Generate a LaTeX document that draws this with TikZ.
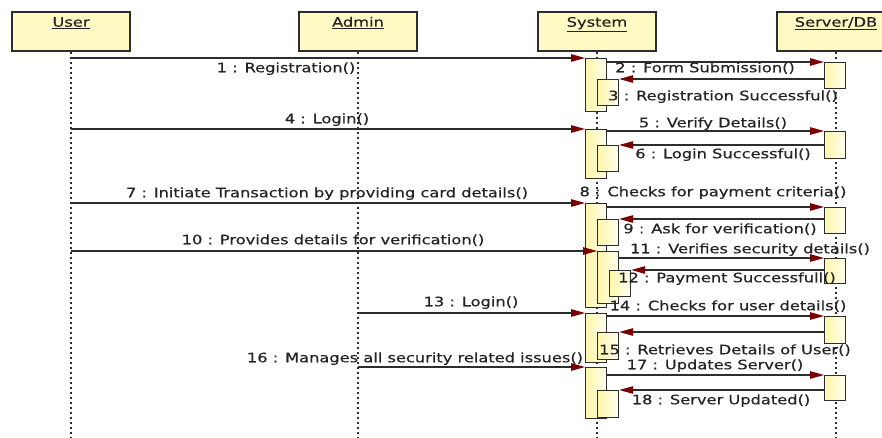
\documentclass[tikz,border=0pt]{standalone}
\usepackage{fontspec}
\setmainfont{DejaVu Sans}[FakeStretch=1.25,FakeBold=0.4]
\usetikzlibrary{arrows.meta}
\definecolor{hdrY}{RGB}{255,250,196}
\definecolor{actY}{RGB}{255,246,168}
\definecolor{tipR}{RGB}{120,0,0}
\definecolor{lineG}{RGB}{45,45,45}
\definecolor{txtG}{RGB}{35,35,35}
\begin{document}
\begin{tikzpicture}[x=1pt,y=-1pt,
  hdr/.style={draw=lineG, line width=1.4pt, fill=hdrY, minimum width=118pt,
    minimum height=39pt, inner sep=0pt, text height=14.7pt, text depth=24.3pt,
    font=\fontsize{13}{15}\selectfont, text=txtG},
  life/.style={draw=lineG, line width=2pt, dash pattern=on 2pt off 3pt},
  act/.style={draw=lineG, line width=1.2pt, left color=actY, right color=white!85!actY,
    minimum width=21pt, inner sep=0pt, anchor=north west},
  msg/.style={draw=lineG, line width=1.1pt, -{Triangle[length=14pt,width=7.5pt,color=tipR]}},
  lbl/.style={font=\fontsize{13}{15}\selectfont, text=txtG, inner sep=0pt,
    text height=9.5pt, text depth=3pt}]
\useasboundingbox (0,0) rectangle (882,437);
\clip (0,0) rectangle (882,437);
\fill[white] (0,0) rectangle (882,437);

% headers
\node[hdr] (U) at (71,31.5) {\underline{User}};
\node[hdr] (A) at (358,31.5) {\underline{Admin}};
\node[hdr] (S) at (597,31.5) {\underline{System}};
\node[hdr] (D) at (836,31.5) {\underline{Server/DB}};

% lifeline ends
\coordinate (Ue) at (71,437);
\coordinate (Ae) at (358,437);
\coordinate (Se) at (597,437);
\coordinate (De) at (836,437);
\draw[life] (U.south) -- (Ue);
\draw[life] (A.south) -- (Ae);
\draw[life] (S.south) -- (Se);
\draw[life] (D.south) -- (De);

% system activations
\node[act, minimum height=53pt] (a1) at (585,58) {};
\node[act, minimum height=26pt] (a1b) at (597,79) {};
\node[act, minimum height=49pt] (a2) at (585,129) {};
\node[act, minimum height=26pt] (a2b) at (597,145) {};
\node[act, minimum height=104pt] (a3) at (585,203) {};
\node[act, minimum height=26pt] (a3b) at (597,219) {};
\node[act, minimum height=52pt] (a3c) at (597,251) {};
\node[act, minimum height=26pt] (a3d) at (609,270) {};
\node[act, minimum height=49pt] (a4) at (585,313) {};
\node[act, minimum height=27pt] (a4b) at (597,332) {};
\node[act, minimum height=51pt] (a5) at (585,367) {};
\node[act, minimum height=27pt] (a5b) at (597,390) {};

% server activations
\node[act, minimum height=26pt] (s1) at (824,62) {};
\node[act, minimum height=27pt] (s2) at (824,131) {};
\node[act, minimum height=26pt] (s3) at (824,207) {};
\node[act, minimum height=25pt] (s4) at (824,258) {};
\node[act, minimum height=27pt] (s5) at (824,316) {};
\node[act, minimum height=25pt] (s6) at (824,375) {};

% messages
\draw[msg] (a1.north west -| U) -- (a1.north west);
\draw[msg] (s1.north west -| a1.east) -- (s1.north west);
\draw[msg] (a1b.north east -| s1.west) -- (a1b.north east);
\draw[msg] (a2.north west -| U) -- (a2.north west);
\draw[msg] (s2.north west -| a2.east) -- (s2.north west);
\draw[msg] (a2b.north east -| s2.west) -- (a2b.north east);
\draw[msg] (a3.north west -| U) -- (a3.north west);
\draw[msg] (s3.north west -| a3.east) -- (s3.north west);
\draw[msg] (a3b.north east -| s3.west) -- (a3b.north east);
\draw[msg] (a3c.north west -| U) -- (a3c.north west);
\draw[msg] (s4.north west -| a3c.east) -- (s4.north west);
\draw[msg] (a3d.north east -| s4.west) -- (a3d.north east);
\draw[msg] (a4.north west -| A) -- (a4.north west);
\draw[msg] (s5.north west -| a4.east) -- (s5.north west);
\draw[msg] (a4b.north east -| s5.west) -- (a4b.north east);
\draw[msg] (a5.north west -| A) -- (a5.north west);
\draw[msg] (s6.north west -| a5.east) -- (s6.north west);
\draw[msg] (a5b.north east -| s6.west) -- (a5b.north east);

% labels
\node[lbl] (l1) at (286,69) {1 : Registration()};
\node[lbl] (l2) at (705,69) {2 : Form Submission()};
\node[lbl] (l3) at (723,97) {3 : Registration Successful()};
\node[lbl] (l4) at (327,120) {4 : Login()};
\node[lbl] (l5) at (713,124) {5 : Verify Details()};
\node[lbl] (l6) at (723,155) {6 : Login Successful()};
\node[lbl] (l7) at (327,194) {7 : Initiate Transaction by providing card details()};
\node[lbl] (l8) at (713,193) {8 : Checks for payment criteria()};
\node[lbl] (l9) at (720,230) {9 : Ask for verification()};
\node[lbl] (l10) at (333,241) {10 : Provides details for verification()};
\node[lbl] (l11) at (750,250) {11 : Verifies security details()};
\node[lbl] (l12) at (727,279) {12 : Payment Successfull()};
\node[lbl] (l13) at (471,303) {13 : Login()};
\node[lbl] (l14) at (728,307) {14 : Checks for user details()};
\node[lbl] (l15) at (725,351) {15 : Retrieves Details of User()};
\node[lbl] (l16) at (415,359) {16 : Manages all security related issues()};
\node[lbl] (l17) at (715,366) {17 : Updates Server()};
\node[lbl] (l18) at (721,401) {18 : Server Updated()};
\end{tikzpicture}
\end{document}
